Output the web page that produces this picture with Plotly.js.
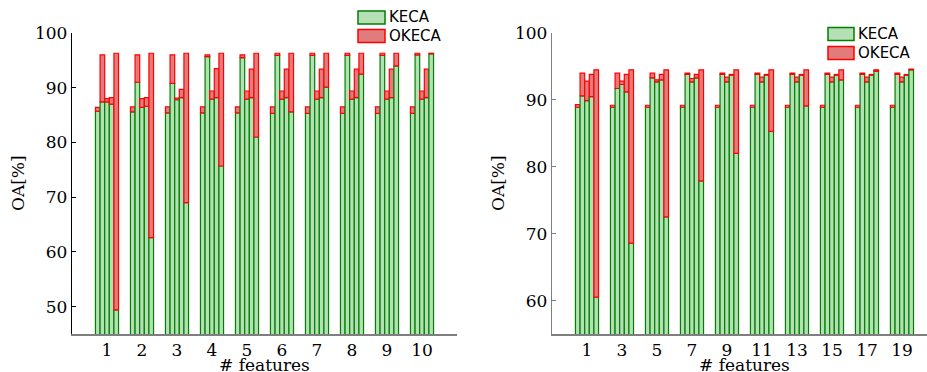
<!DOCTYPE html>
<html>
<head>
<meta charset="utf-8">
<script src="https://cdn.plot.ly/plotly-3.0.1.min.js"></script>
<style>
  html, body { margin: 0; padding: 0; background: #ffffff; overflow: hidden; }
  #chart { width: 927px; height: 372px; }
</style>
</head>
<body>
<div id="chart"></div>
<script>
// Number of features on each panel's x axis
const featLeft = [1, 2, 3, 4, 5, 6, 7, 8, 9, 10];
const featRight = [1, 3, 5, 7, 9, 11, 13, 15, 17, 19];

// Overall accuracy (%) per number of features; each row holds the five runs
const kecaLeft = [
  [85.7, 87.4, 87.4, 87.0, 49.4],
  [85.6, 91.0, 86.4, 86.6, 62.6],
  [85.4, 90.8, 87.8, 88.2, 69.0],
  [85.4, 95.7, 87.9, 88.2, 75.7],
  [85.4, 95.5, 87.9, 88.2, 81.0],
  [85.3, 95.9, 87.9, 88.2, 85.6],
  [85.3, 95.9, 87.9, 88.2, 90.1],
  [85.3, 95.9, 87.9, 88.2, 92.5],
  [85.3, 95.9, 87.9, 88.2, 94.0],
  [85.3, 96.0, 87.9, 88.2, 96.2]
];
const okecaLeft = [
  [86.4, 96.0, 88.0, 88.2, 96.3],
  [86.5, 96.0, 88.0, 88.2, 96.3],
  [86.5, 96.0, 88.1, 89.7, 96.3],
  [86.5, 96.0, 89.4, 93.5, 96.3],
  [86.5, 96.0, 89.4, 93.4, 96.3],
  [86.5, 96.3, 89.4, 93.4, 96.3],
  [86.5, 96.3, 89.4, 93.4, 96.3],
  [86.5, 96.3, 89.4, 93.4, 96.3],
  [86.5, 96.3, 89.4, 93.4, 96.3],
  [86.5, 96.3, 89.4, 93.4, 96.3]
];
const kecaRight = [
  [88.9, 90.6, 89.9, 90.5, 60.5],
  [88.9, 91.7, 92.3, 91.2, 68.6],
  [88.9, 93.3, 92.7, 93.0, 72.5],
  [88.9, 93.8, 92.7, 93.3, 77.9],
  [88.9, 93.8, 92.7, 93.7, 82.0],
  [88.9, 93.8, 92.7, 93.7, 85.3],
  [88.9, 93.8, 92.7, 93.7, 89.1],
  [88.9, 93.8, 92.7, 93.7, 93.0],
  [88.9, 93.8, 92.7, 93.7, 94.3],
  [88.9, 93.8, 92.7, 93.7, 94.5]
];
const okecaRight = [
  [89.3, 94.0, 92.8, 93.8, 94.5],
  [89.2, 94.0, 92.8, 93.8, 94.5],
  [89.2, 94.0, 93.0, 93.8, 94.5],
  [89.2, 94.0, 93.2, 93.8, 94.5],
  [89.2, 94.0, 93.4, 93.8, 94.5],
  [89.2, 94.0, 93.4, 93.8, 94.5],
  [89.2, 94.0, 93.4, 93.8, 94.5],
  [89.2, 94.0, 93.4, 93.8, 94.5],
  [89.2, 94.0, 93.4, 93.8, 94.5],
  [89.2, 94.0, 93.4, 93.8, 94.6]
];

const yTicksLeft = [50, 60, 70, 80, 90, 100];
const yTicksRight = [60, 70, 80, 90, 100];

const kecaFill = '#b5dfb5', kecaEdge = '#008000';
const okecaFill = '#e07c7c', okecaEdge = '#ff0000';

const W = 927, H = 372;
const px = v => v / W;          // pixel x -> paper
const py = v => 1 - v / H;      // pixel y -> paper

// One green bar per run, with the OKECA gain stacked on top of it
function panelTraces(feat, keca, okeca, xa, ya, tag) {
  const out = [];
  const runs = keca[0].length;
  for (let r = 0; r < runs; r++) {
    const k = keca.map(row => row[r]);
    const o = okeca.map(row => row[r]);
    out.push({
      type: 'bar', x: feat, y: k, xaxis: xa, yaxis: ya,
      offsetgroup: tag + r, alignmentgroup: tag,
      marker: { color: kecaFill, line: { color: kecaEdge, width: 1.2 } },
      showlegend: false, hoverinfo: 'x+y'
    });
    out.push({
      type: 'bar', x: feat, y: o.map((v, i) => v - k[i]), base: k, xaxis: xa, yaxis: ya,
      offsetgroup: tag + r, alignmentgroup: tag,
      marker: { color: okecaFill, line: { color: okecaEdge, width: 1.2 } },
      showlegend: false, hoverinfo: 'x+y'
    });
  }
  return out;
}

const data = [
  ...panelTraces(featLeft, kecaLeft, okecaLeft, 'x', 'y', 'L'),
  ...panelTraces(featRight, kecaRight, okecaRight, 'x2', 'y2', 'R')
];

const tickFont = { family: 'DejaVu Serif, serif', size: 17, color: '#000' };
const yDomain = [py(334), py(33)];

const xCommon = {
  showgrid: false, zeroline: false, showline: true, linecolor: '#7f7f7f', linewidth: 1.5,
  ticks: '', tickfont: tickFont, automargin: false, fixedrange: true, ticklabelstandoff: 0
};
const yCommon = {
  showgrid: false, zeroline: false, showline: true, linewidth: 1.2,
  ticks: 'inside', ticklen: 4, tickwidth: 1, tickfont: tickFont, automargin: false, fixedrange: true
};

// Legend drawn as boxes and labels so the swatches keep their wide shape
function legendItems(x0, x1, rows) {
  const shapes = [], notes = [];
  const entries = [['KECA', kecaFill, kecaEdge], ['OKECA', okecaFill, okecaEdge]];
  entries.forEach((e, i) => {
    const cy = rows[i];
    shapes.push({
      type: 'rect', xref: 'paper', yref: 'paper',
      x0: px(x0), x1: px(x1), y0: py(cy + 6.5), y1: py(cy - 6.5),
      fillcolor: e[1], line: { color: e[2], width: 1.5 }
    });
    notes.push({
      xref: 'paper', yref: 'paper', x: px(x1 + 2), y: py(cy),
      xanchor: 'left', yanchor: 'middle', showarrow: false, text: e[0],
      font: { family: 'DejaVu Sans, sans-serif', size: 15, color: '#000' }
    });
  });
  return { shapes, notes };
}

const legL = legendItems(358, 385, [17.5, 36]);
const legR = legendItems(828, 854, [34, 53]);

const titleFont = { family: 'DejaVu Serif, serif', size: 17, color: '#000' };

const layout = {
  width: W, height: H,
  margin: { l: 0, r: 0, t: 0, b: 0 },
  paper_bgcolor: '#ffffff', plot_bgcolor: '#ffffff',
  barmode: 'group', bargap: 0.34, bargroupgap: 0,
  showlegend: false,
  xaxis: Object.assign({}, xCommon, {
    domain: [px(72), px(457)], range: [0, 11], tickvals: featLeft, anchor: 'y'
  }),
  yaxis: Object.assign({}, yCommon, {
    domain: yDomain, range: [45, 100], tickvals: yTicksLeft, linecolor: '#000', tickcolor: '#000', anchor: 'x'
  }),
  xaxis2: Object.assign({}, xCommon, {
    domain: [px(552), 1], range: [-1, 20.43], tickvals: featRight, anchor: 'y2'
  }),
  yaxis2: Object.assign({}, yCommon, {
    domain: yDomain, range: [55, 100], tickvals: yTicksRight, linecolor: '#7f7f7f', tickcolor: '#7f7f7f', anchor: 'x2'
  }),
  shapes: [...legL.shapes, ...legR.shapes],
  annotations: [
    ...legL.notes, ...legR.notes,
    { xref: 'paper', yref: 'paper', x: px(264.5), y: py(365), xanchor: 'center', yanchor: 'middle',
      showarrow: false, text: '# features', font: titleFont },
    { xref: 'paper', yref: 'paper', x: px(744.5), y: py(365), xanchor: 'center', yanchor: 'middle',
      showarrow: false, text: '# features', font: titleFont },
    { xref: 'paper', yref: 'paper', x: px(18), y: py(183), xanchor: 'center', yanchor: 'middle',
      showarrow: false, text: 'OA[%]', textangle: -90, font: titleFont },
    { xref: 'paper', yref: 'paper', x: px(498), y: py(183), xanchor: 'center', yanchor: 'middle',
      showarrow: false, text: 'OA[%]', textangle: -90, font: titleFont }
  ]
};

Plotly.newPlot('chart', data, layout, { staticPlot: true, displayModeBar: false });
</script>
</body>
</html>
